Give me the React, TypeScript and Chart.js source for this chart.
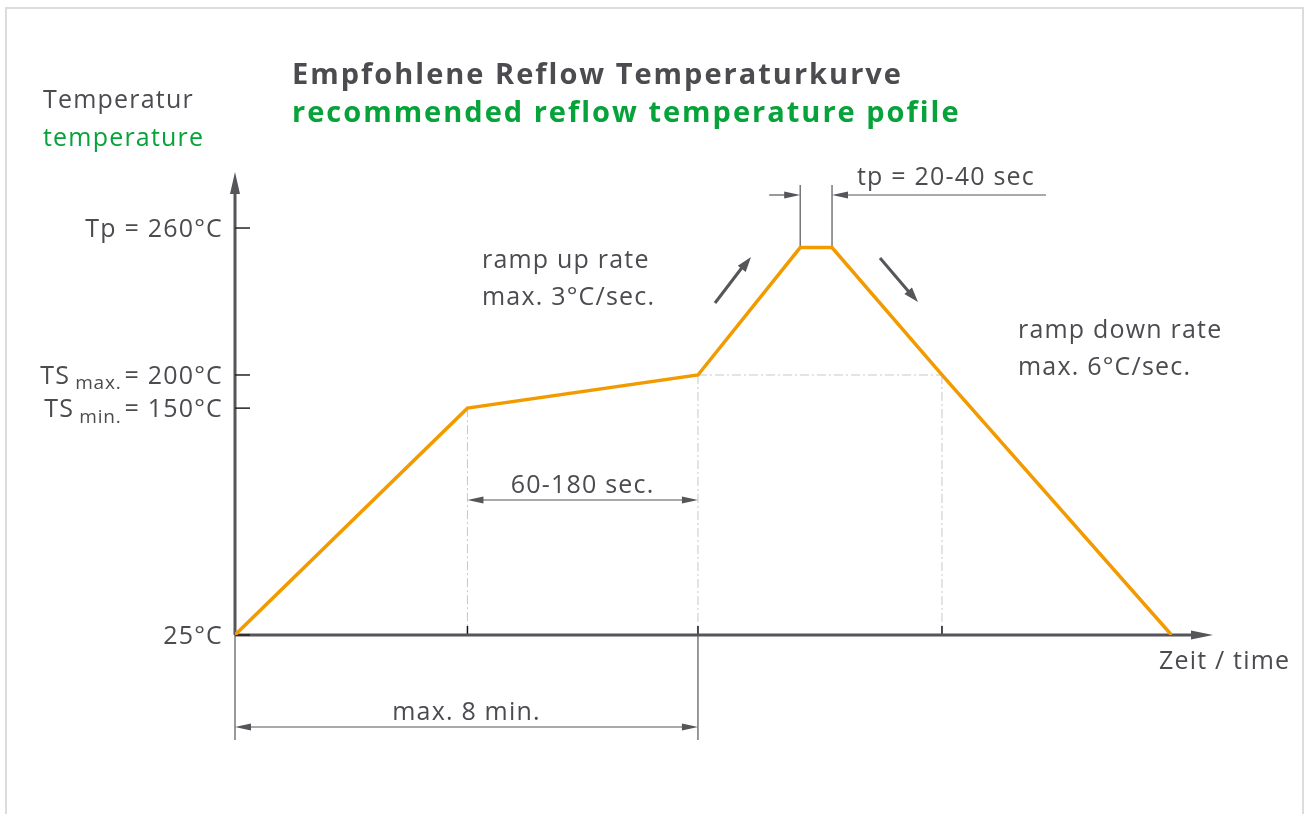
import React, { useEffect, useRef } from "react";
import { Chart, registerables, LinearScale } from "chart.js";

Chart.register(...registerables);

// ---- data ----
const timeSec = [0, 241, 480, 586, 619, 733, 971];
const tempC = [25, 150, 200, 252, 252, 200, 25];
const yTickValues = [25, 150, 200, 260];
const yTickLabels: [string, string, string][] = [
  ["25°C", "", ""],
  ["TS", "min.", "= 150°C"],
  ["TS", "max.", "= 200°C"],
  ["Tp = 260°C", "", ""],
];
const xGuideTimes = [241, 480, 733];
const soakStart = 241;
const soakEnd = 480;
const peakStart = 586;
const peakEnd = 619;
const peakTemp = 252;
const tsMaxTemp = 200;
const tsMinTemp = 150;
const timeMax = 1014;

const titleDe = "Empfohlene Reflow Temperaturkurve";
const titleEn = "recommended reflow temperature pofile";
const yTitleDe = "Temperatur";
const yTitleEn = "temperature";
const xTitle = "Zeit / time";
const soakLabel = "60-180 sec.";
const totalLabel = "max. 8 min.";
const peakLabel = "tp = 20-40 sec";
const rampUp = ["ramp up rate", "max. 3°C/sec."];
const rampDown = ["ramp down rate", "max. 6°C/sec."];

// schematic (non-linear) temperature axis: [temperature, fraction of axis height]
const yStops: [number, number][] = [
  [25, 0],
  [150, 0.49],
  [200, 0.5616],
  [260, 0.879],
  [283, 1],
];

class PiecewiseScale extends (LinearScale as any) {
  static id = "piecewise";
  static defaults = (LinearScale as any).defaults;
  getPixelForValue(value: number) {
    const stops: [number, number][] = this.options.stops;
    let f = 0;
    if (value <= stops[0][0]) f = stops[0][1];
    else if (value >= stops[stops.length - 1][0]) f = stops[stops.length - 1][1];
    else {
      for (let i = 0; i < stops.length - 1; i++) {
        const [a, fa] = stops[i];
        const [b, fb] = stops[i + 1];
        if (value >= a && value <= b) {
          f = fa + ((value - a) / (b - a)) * (fb - fa);
          break;
        }
      }
    }
    return this.getPixelForDecimal(f);
  }
  getValueForPixel(pixel: number) {
    const stops: [number, number][] = this.options.stops;
    const f = this.getDecimalForPixel(pixel);
    for (let i = 0; i < stops.length - 1; i++) {
      const [a, fa] = stops[i];
      const [b, fb] = stops[i + 1];
      if (f >= fa && f <= fb) return a + ((f - fa) / (fb - fa)) * (b - a);
    }
    return f < 0 ? stops[0][0] : stops[stops.length - 1][0];
  }
}
Chart.register(PiecewiseScale as any);

const FONT = '"Open Sans", "DejaVu Sans", sans-serif';
const TXT = "#4b4b50";
const GREEN = "#06a23a";
const ORANGE = "#f29b00";
const AXIS = "#55555a";
const FS = 25;
const LS = 1.2;

function arrowHead(ctx: CanvasRenderingContext2D, tx: number, ty: number, angle: number, len: number, halfW: number, color: string) {
  ctx.save();
  ctx.translate(tx, ty);
  ctx.rotate(angle);
  ctx.fillStyle = color;
  ctx.beginPath();
  ctx.moveTo(0, 0);
  ctx.lineTo(-len, -halfW);
  ctx.lineTo(-len, halfW);
  ctx.closePath();
  ctx.fill();
  ctx.restore();
}

function line(ctx: CanvasRenderingContext2D, x1: number, y1: number, x2: number, y2: number, color: string, w: number, dash: number[] = []) {
  ctx.save();
  ctx.strokeStyle = color;
  ctx.lineWidth = w;
  ctx.setLineDash(dash);
  ctx.beginPath();
  ctx.moveTo(x1, y1);
  ctx.lineTo(x2, y2);
  ctx.stroke();
  ctx.restore();
}

function setFont(ctx: CanvasRenderingContext2D, size: number, weight: string, ls: number) {
  ctx.font = `${weight} ${size}px ${FONT}`;
  (ctx as any).letterSpacing = `${ls}px`;
}

function measure(ctx: CanvasRenderingContext2D, s: string, size: number, ls = LS, weight = "normal") {
  ctx.save();
  setFont(ctx, size, weight, ls);
  const w = ctx.measureText(s).width;
  ctx.restore();
  return w;
}

function text(ctx: CanvasRenderingContext2D, s: string, x: number, y: number, size: number, color: string, align: CanvasTextAlign = "left", weight = "normal", ls = LS) {
  ctx.save();
  setFont(ctx, size, weight, ls);
  ctx.fillStyle = color;
  ctx.textAlign = align;
  ctx.textBaseline = "middle";
  ctx.fillText(s, x, y + 2);
  ctx.restore();
}

const diagramPlugin = {
  id: "diagram",
  beforeDraw(chart: any) {
    const ctx = chart.ctx as CanvasRenderingContext2D;
    ctx.save();
    ctx.fillStyle = "#fff";
    ctx.fillRect(0, 0, chart.width, chart.height);
    ctx.strokeStyle = "#dcdcdc";
    ctx.lineWidth = 2;
    ctx.strokeRect(6, 8, 1297, 830);
    ctx.restore();
  },
  beforeDatasetsDraw(chart: any) {
    const ctx = chart.ctx as CanvasRenderingContext2D;
    const xs = chart.scales.x;
    const ys = chart.scales.y;
    const { left, right, top, bottom } = chart.chartArea;
    const guide = "#c8c8c8";
    const dd = [9, 3, 2, 3];
    // guides
    const yMin = ys.getPixelForValue(tsMinTemp);
    const yMax = ys.getPixelForValue(tsMaxTemp);
    xGuideTimes.forEach((t, i) => {
      const px = xs.getPixelForValue(t);
      line(ctx, px, i === 0 ? yMin : yMax, px, bottom - 8, guide, 1, dd);
      line(ctx, px, bottom - 9, px, bottom, "#111", 1.5);
    });
    line(ctx, xs.getPixelForValue(soakEnd), yMax, xs.getPixelForValue(xGuideTimes[2]), yMax, guide, 1, dd);
    // axes
    line(ctx, left, bottom, left, top + 18, AXIS, 3);
    arrowHead(ctx, left, top, -Math.PI / 2, 22, 5, AXIS);
    line(ctx, left, bottom, right - 18, bottom, AXIS, 3);
    arrowHead(ctx, right, bottom, 0, 22, 4.5, AXIS);
    // y ticks + labels
    yTickValues.forEach((v, i) => {
      const py = ys.getPixelForValue(v);
      line(ctx, left, py, left + 15, py, "#222", 1.5);
      const [a, sub, rest] = yTickLabels[i];
      const rx = 223;
      if (!sub) {
        text(ctx, a, rx, py, FS, TXT, "right");
      } else {
        const wRest = measure(ctx, rest, FS);
        const wSub = measure(ctx, sub, 19, 0.8);
        text(ctx, rest, rx, py, FS, TXT, "right");
        text(ctx, sub, rx - wRest - 3, py + 7, 19, TXT, "right", "normal", 0.8);
        text(ctx, a, rx - wRest - 3 - wSub - 5, py, FS, TXT, "right");
      }
    });
    // dimension: soak
    const sx1 = xs.getPixelForValue(soakStart);
    const sx2 = xs.getPixelForValue(soakEnd);
    const dy1 = bottom - 135;
    line(ctx, sx1 + 10, dy1, sx2 - 10, dy1, AXIS, 1.2);
    arrowHead(ctx, sx1, dy1, Math.PI, 16, 3.5, AXIS);
    arrowHead(ctx, sx2, dy1, 0, 16, 3.5, AXIS);
    text(ctx, soakLabel, (sx1 + sx2) / 2, dy1 - 16, FS, TXT, "center");
    // dimension: total
    const tx1 = xs.getPixelForValue(0);
    const dy2 = bottom + 92;
    line(ctx, tx1, bottom, tx1, dy2 + 13, AXIS, 1.2);
    line(ctx, sx2, bottom, sx2, dy2 + 13, AXIS, 1.2);
    line(ctx, tx1 + 10, dy2, sx2 - 10, dy2, AXIS, 1.2);
    arrowHead(ctx, tx1, dy2, Math.PI, 16, 3.5, AXIS);
    arrowHead(ctx, sx2, dy2, 0, 16, 3.5, AXIS);
    text(ctx, totalLabel, (tx1 + sx2) / 2, dy2 - 16, FS, TXT, "center");
    // dimension: peak
    const px1 = xs.getPixelForValue(peakStart);
    const px2 = xs.getPixelForValue(peakEnd);
    const pTop = ys.getPixelForValue(peakTemp);
    const pdy = top + 23;
    line(ctx, px1, pTop, px1, pdy - 10, AXIS, 1.2);
    line(ctx, px2, pTop, px2, pdy - 10, AXIS, 1.2);
    line(ctx, px1 - 31, pdy, px1 - 8, pdy, AXIS, 1.2);
    arrowHead(ctx, px1, pdy, 0, 16, 3.5, AXIS);
    line(ctx, px2 + 8, pdy, 1046, pdy, AXIS, 1.2);
    arrowHead(ctx, px2, pdy, Math.PI, 16, 3.5, AXIS);
    text(ctx, peakLabel, 857, pdy - 19, FS, TXT, "left");
  },
  afterDraw(chart: any) {
    const ctx = chart.ctx as CanvasRenderingContext2D;
    const { right, bottom } = chart.chartArea;
    text(ctx, titleDe, 292, 74, 29, TXT, "left", "bold", 2);
    text(ctx, titleEn, 292, 112, 29, GREEN, "left", "bold", 2);
    text(ctx, yTitleDe, 43, 99, FS, TXT, "left");
    text(ctx, yTitleEn, 43, 137, FS, GREEN, "left");
    text(ctx, xTitle, right - 54, bottom + 25, FS, TXT, "left");
    text(ctx, rampUp[0], 482, 259, FS, TXT, "left");
    text(ctx, rampUp[1], 482, 296, FS, TXT, "left");
    text(ctx, rampDown[0], 1018, 329, FS, TXT, "left");
    text(ctx, rampDown[1], 1018, 366, FS, TXT, "left");
    // direction arrows
    line(ctx, 715, 303, 744, 265, AXIS, 3);
    arrowHead(ctx, 751, 257, Math.atan2(257 - 303, 751 - 715), 15, 5, AXIS);
    line(ctx, 880, 258, 909, 292, AXIS, 3);
    arrowHead(ctx, 918, 302, Math.atan2(302 - 258, 918 - 880), 15, 5, AXIS);
  },
};

export default function App() {
  const ref = useRef<HTMLCanvasElement>(null);
  useEffect(() => {
    if (!ref.current) return;
    const chart = new Chart(ref.current, {
      type: "line",
      data: {
        datasets: [
          {
            data: timeSec.map((t, i) => ({ x: t, y: tempC[i] })),
            borderColor: ORANGE,
            borderWidth: 3.5,
            pointRadius: 0,
            tension: 0,
            fill: false,
          },
        ],
      },
      options: {
        animation: false,
        responsive: false,
        events: [],
        layout: { padding: { left: 235, right: 92, top: 172, bottom: 179 } },
        plugins: { legend: { display: false }, tooltip: { enabled: false }, title: { display: false } },
        scales: {
          x: { type: "linear", min: 0, max: timeMax, display: false },
          y: { type: "piecewise" as any, min: 25, max: 283, display: false, stops: yStops } as any,
        },
      },
      plugins: [diagramPlugin],
    });
    return () => chart.destroy();
  }, []);
  return (
    <div style={{ position: "fixed", left: 0, top: 0, width: 1305, height: 814, background: "#fff" }}>
      <canvas ref={ref} width={1305} height={814} style={{ display: "block" }} />
    </div>
  );
}
